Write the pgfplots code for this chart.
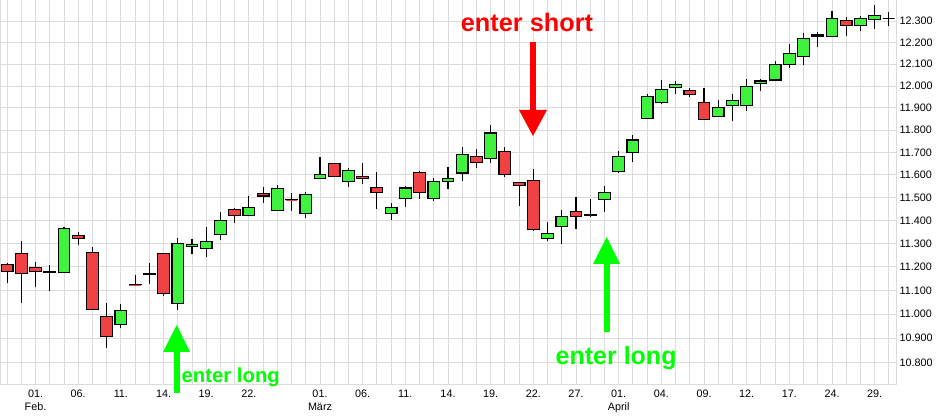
\documentclass[border=0pt]{standalone}
\usepackage{pgfplots}
\pgfplotsset{compat=1.18}
\usepackage{pgfplotstable}
\usepackage{fontspec}
\setmainfont{Liberation Sans}
\definecolor{cred}{RGB}{240,66,66}
\definecolor{cgreen}{RGB}{62,242,62}
\definecolor{gridc}{RGB}{220,220,220}
\definecolor{arrg}{RGB}{0,255,0}
\definecolor{arrr}{RGB}{255,0,0}

\pgfplotstableread{
i o h l c
0 11211 11218 11130 11180
1 11258 11311 11049 11171
2 11198 11222 11115 11181
3 11178 11208 11098 11177
4 11177 11372 11175 11366
5 11336 11350 11294 11323
6 11263 11285 11019 11021
7 10991 11046 10860 10908
8 10958 11043 10944 11016
9 11125 11164 11118 11124
10 11171 11215 11126 11170
11 11258 11259 11078 11088
12 11046 11324 11019 11301
13 11287 11320 11254 11295
14 11278 11371 11244 11310
15 11340 11437 11317 11401
16 11449 11454 11390 11423
17 11423 11507 11418 11458
18 11519 11547 11478 11507
19 11445 11556 11440 11540
20 11491 11519 11443 11490
21 11430 11525 11411 11515
22 11585 11680 11581 11603
23 11649 11652 11590 11594
24 11572 11630 11548 11621
25 11594 11653 11562 11585
26 11546 11613 11452 11521
27 11432 11475 11404 11458
28 11497 11552 11461 11542
29 11612 11616 11496 11524
30 11496 11585 11487 11572
31 11572 11636 11540 11585
32 11608 11726 11574 11689
33 11683 11716 11632 11656
34 11674 11823 11652 11786
35 11705 11726 11593 11603
36 11568 11569 11465 11552
37 11577 11627 11356 11362
38 11323 11394 11310 11345
39 11375 11446 11298 11418
40 11440 11502 11365 11418
41 11424 11493 11415 11423
42 11493 11552 11439 11524
43 11616 11707 11610 11683
44 11701 11778 11659 11755
45 11853 11963 11851 11953
46 11926 12028 11917 11985
47 11995 12023 11965 12008
48 11981 11990 11949 11963
49 11926 11993 11848 11849
50 11862 11937 11860 11903
51 11912 11964 11843 11935
52 11912 12031 11888 11999
53 12013 12033 11979 12023
54 12027 12114 12025 12100
55 12100 12194 12084 12151
56 12137 12245 12098 12221
57 12227 12250 12181 12236
58 12230 12349 12226 12314
59 12303 12320 12233 12281
60 12281 12326 12256 12314
61 12309 12377 12265 12328
62 12312 12344 12279 12312
}\candles

\begin{document}
\begin{tikzpicture}
\begin{axis}[
  name=ax, scale only axis, width=896bp, height=385bp,
  xmin=-0.5, xmax=62.5,
  y coord trafo/.code={\pgfmathparse{1000*ln(#1/10000)}},
  ymin=10707, ymax=12400,
  xtick={2,5,8,11,14,17,22,25,28,31,34,37,40,43,46,49,52,55,58,61},
  xticklabels={01.\\Feb.,06.,11.,14.,19.,22.,01.\\März,06.,11.,14.,19.,22.,27.,01.\\April,04.,09.,12.,17.,24.,29.},
  minor xtick={0,...,62},
  ytick={10800,10900,11000,11100,11200,11300,11400,11500,11600,11700,11800,11900,12000,12100,12200,12300},
  yticklabels={10.800,10.900,11.000,11.100,11.200,11.300,11.400,11.500,11.600,11.700,11.800,11.900,12.000,12.100,12.200,12.300},
  yticklabel pos=right,
  xmajorgrids=true, xminorgrids=true, ymajorgrids=true, yminorgrids=false,
  major grid style={gridc, line width=1bp},
  minor grid style={gridc, line width=1bp},
  axis line style={gridc, line width=1bp},
  tick style={draw=none},
  xticklabel style={align=center, font=\fontsize{10.8bp}{12.5bp}\selectfont, inner sep=2bp, yshift=-3bp},
  yticklabel style={font=\fontsize{10.8bp}{13bp}\selectfont, anchor=west, inner sep=3.5bp},
]
\pgfplotsforeachungrouped \k in {0,...,62}{
  \pgfplotstablegetelem{\k}{o}\of\candles \let\vO\pgfplotsretval
  \pgfplotstablegetelem{\k}{h}\of\candles \let\vH\pgfplotsretval
  \pgfplotstablegetelem{\k}{l}\of\candles \let\vL\pgfplotsretval
  \pgfplotstablegetelem{\k}{c}\of\candles \let\vC\pgfplotsretval
  \pgfmathsetmacro\xa{\k-0.41}
  \pgfmathsetmacro\xb{\k+0.41}
  \ifdim\vC pt<\vO pt \def\col{cred}\else\def\col{cgreen}\fi
  \edef\temp{%
    \noexpand\addplot[draw=black, line width=1.2bp] coordinates {(\k,\vL) (\k,\vH)};
    \noexpand\addplot[draw=black, fill=\col, line width=1.2bp, line join=miter] coordinates {(\xa,\vO) (\xb,\vO) (\xb,\vC) (\xa,\vC)} --cycle;
  }
  \temp
}
\end{axis}
\begin{scope}[shift={(ax.north west)}, x=1bp, y=-1bp]
  % enter short
  \fill[arrr] (530,42) rectangle (536,111);
  \fill[arrr] (519,110) -- (547,110) -- (533,136) -- cycle;
  \node[anchor=base, inner sep=0, text=arrr, font=\fontsize{25.3bp}{30bp}\selectfont\bfseries] at (527,32) {enter short};
  % enter long 1
  \fill[arrg] (174,351) rectangle (180,393);
  \fill[arrg] (163,352) -- (190,352) -- (176.7,325) -- cycle;
  \node[anchor=base west, inner sep=0, text=arrg, font=\fontsize{20.3bp}{24bp}\selectfont\bfseries] at (181.5,383) {enter long};
  % enter long 2
  \fill[arrg] (604,263) rectangle (610,332);
  \fill[arrg] (593,264) -- (620,264) -- (606.7,237) -- cycle;
  \node[anchor=base west, inner sep=0, text=arrg, font=\fontsize{25bp}{30bp}\selectfont\bfseries] at (555.5,365) {enter long};
\end{scope}
\pgfresetboundingbox
\path[use as bounding box] (ax.north west) rectangle ([xshift=941bp,yshift=-416bp]ax.north west);
\end{tikzpicture}
\end{document}
